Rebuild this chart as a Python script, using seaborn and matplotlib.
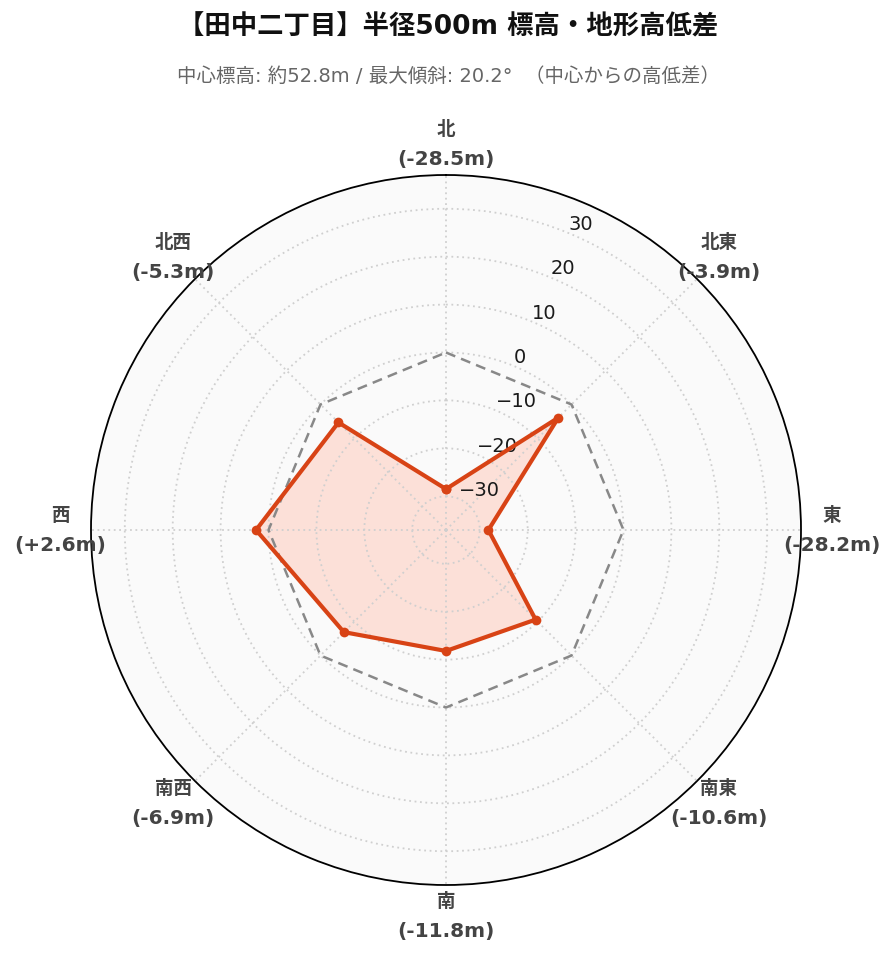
import numpy as np
import pandas as pd
import matplotlib
matplotlib.use("Agg")
import matplotlib.pyplot as plt
import seaborn as sns

# data
area_name = "田中二丁目"
radius_m = 500
center_elev = 52.8
max_slope = 20.2
directions = ["北", "北東", "東", "南東", "南", "南西", "西", "北西"]
diffs = [-28.5, -3.9, -28.2, -10.6, -11.8, -6.9, 2.6, -5.3]
r_ticks = [-30, -20, -10, 0, 10, 20, 30]

sns.set_style("white")
mixed = ["DejaVu Sans", "Noto Sans CJK JP"]
plt.rcParams["font.family"] = mixed

LINE = "#d84315"
FILL = "#ffccbc"

theta = np.deg2rad(np.arange(len(directions)) * 45.0)
df = pd.DataFrame({"theta": np.append(theta, theta[0]),
                   "diff": np.append(diffs, diffs[0])})
lim = 1.3 * max(abs(v) for v in diffs)

fig = plt.figure(figsize=(8.96, 9.62), dpi=100)
ax = fig.add_axes([91 / 896, 76 / 962, 710 / 896, 710 / 962], projection="polar")
ax.set_theta_zero_location("N")
ax.set_theta_direction(-1)
ax.set_ylim(-lim, lim)
ax.set_facecolor("#fafafa")
ax.set_axisbelow(False)

ax.fill(df["theta"], df["diff"], color=FILL, alpha=0.55, zorder=1, lw=0)
# zero reference
ax.plot(df["theta"], np.zeros(len(df)), color="#888888", lw=1.8, ls=(0, (4, 2.5)), zorder=3)
sns.lineplot(data=df, x="theta", y="diff", sort=False, estimator=None, ax=ax,
             color=LINE, lw=3, marker="o", markersize=7, markeredgewidth=0, zorder=4)
ax.set_xlabel("")
ax.set_ylabel("")

ax.set_xticks(theta)
ax.set_xticklabels([])
ax.set_yticks(r_ticks)
ax.set_yticklabels([str(t).replace("-", "\u2212") for t in r_ticks], fontsize=14,
                   color="#1a1a1a", family="DejaVu Sans")
ax.set_rlabel_position(22.5)
ax.grid(True, color="#cfcfcf", ls=(0, (1, 2)), lw=1.3)
ax.spines["polar"].set_color("black")
ax.spines["polar"].set_linewidth(1.3)

r_lab = -lim + 2 * lim * 386 / 355
for t, d, v in zip(theta, directions, diffs):
    ax.annotate(d, (t, r_lab), xytext=(0, 11), textcoords="offset points",
                ha="center", va="center", fontsize=13.3, fontweight="bold",
                color="#444444", family="Noto Sans CJK JP", annotation_clip=False)
    ax.annotate(f"({v:+.1f}m)".replace("+-", "-"), (t, r_lab), xytext=(0, -10.5),
                textcoords="offset points", ha="center", va="center", fontsize=14.5,
                fontweight="bold", color="#444444", family="DejaVu Sans",
                annotation_clip=False)

fig.text(0.5, 1 - 27 / 962, f"【{area_name}】半径{radius_m}m 標高・地形高低差",
         ha="center", va="center", fontsize=19, fontweight="bold", color="#111111", family=mixed)
fig.text(0.5, 1 - 76 / 962,
         f"中心標高: 約{center_elev}m / 最大傾斜: {max_slope}°  （中心からの高低差）",
         ha="center", va="center", fontsize=14, color="#666666", family=mixed)

fig.savefig("out.png", dpi=100)
